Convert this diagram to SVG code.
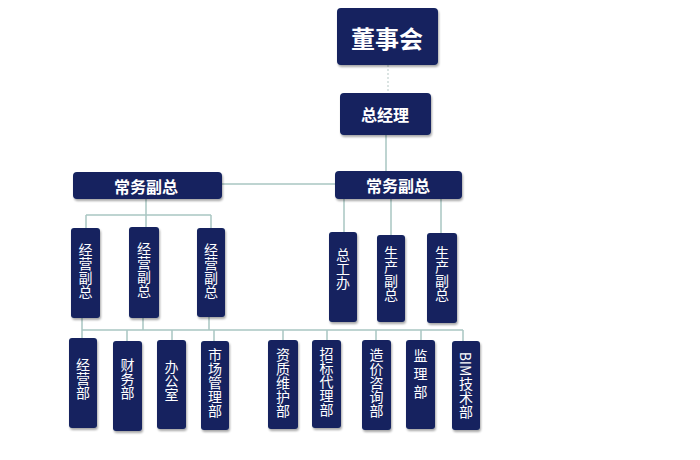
<svg xmlns="http://www.w3.org/2000/svg" width="700" height="460" viewBox="0 0 700 460">
<defs>
<filter id="sh" x="-20%" y="-20%" width="140%" height="140%">
<feGaussianBlur in="SourceAlpha" stdDeviation="1.2"/>
<feOffset dx="1" dy="1.5" result="b"/>
<feComponentTransfer><feFuncA type="linear" slope="0.35"/></feComponentTransfer>
<feMerge><feMergeNode/><feMergeNode in="SourceGraphic"/></feMerge>
</filter>
</defs>
<style>
.box{fill:#13235f;filter:url(#sh)}
.t{fill:#ffffff;font-family:"Noto Sans CJK SC","Liberation Sans",sans-serif;text-anchor:middle}
.h{font-size:16px;font-weight:bold;dominant-baseline:central}
.v{font-size:14px;writing-mode:vertical-rl}
.c{stroke:#a9c6c2;stroke-width:1.5;fill:none}
.d{stroke:#c4d2d0;stroke-width:1.2;stroke-dasharray:2 2;fill:none}
</style>
<rect width="700" height="460" fill="#ffffff"/>
<g id="connectors">
<path class="d" d="M388 65V93"/>
<path class="c" d="M386 135V171"/>
<path class="c" d="M222 184H335"/>
<path class="c" d="M146 199V215M86 215H211M86 215V228M146 215V227M211 215V228"/>
<path class="c" d="M344 199V232M391 199V235M441 199V233"/>
<path class="c" d="M82 318V330M143 318V330M209 317V330M82 330H463"/>
<path class="c" d="M82 330V338M127 330V341M172 330V340M214 330V341M283 330V340M327 330V340M376 330V340M421 330V340M463 330V341"/>
</g>
<g id="n-dongshihui"><rect class="box" x="337" y="8" width="101" height="57" rx="4"/><text class="t h" x="387" y="37" style="font-size:24px">董事会</text></g>
<g id="n-zongjingli"><rect class="box" x="340" y="93" width="91" height="42" rx="4"/><text class="t h" x="385" y="114">总经理</text></g>
<g id="n-cwfz1"><rect class="box" x="73" y="172" width="149" height="27" rx="4"/><text class="t h" x="146" y="185.5">常务副总</text></g>
<g id="n-cwfz2"><rect class="box" x="335" y="171" width="127" height="28" rx="4"/><text class="t h" x="398" y="185">常务副总</text></g>
<g id="n-jyfz1"><rect class="box" x="71" y="228" width="29" height="90" rx="3"/><text class="t v" x="85.5" y="271">经营副总</text></g>
<g id="n-jyfz2"><rect class="box" x="129" y="227" width="30" height="91" rx="3"/><text class="t v" x="144" y="270">经营副总</text></g>
<g id="n-jyfz3"><rect class="box" x="197" y="228" width="28" height="89" rx="3"/><text class="t v" x="211" y="271">经营副总</text></g>
<g id="n-zgb"><rect class="box" x="329" y="232" width="28" height="90" rx="3"/><text class="t v" x="343" y="269">总工办</text></g>
<g id="n-scfz1"><rect class="box" x="377" y="235" width="28" height="87" rx="3"/><text class="t v" x="391" y="274">生产副总</text></g>
<g id="n-scfz2"><rect class="box" x="427" y="233" width="30" height="90" rx="3"/><text class="t v" x="442" y="274">生产副总</text></g>
<g id="n-jyb"><rect class="box" x="69" y="338" width="28" height="90" rx="3"/><text class="t v" x="83" y="379">经营部</text></g>
<g id="n-cwb"><rect class="box" x="113" y="341" width="29" height="90" rx="3"/><text class="t v" x="127.5" y="379">财务部</text></g>
<g id="n-bgs"><rect class="box" x="157" y="340" width="29" height="89" rx="3"/><text class="t v" x="171.5" y="381">办公室</text></g>
<g id="n-scglb"><rect class="box" x="201" y="341" width="28" height="89" rx="3"/><text class="t v" x="215" y="383">市场管理部</text></g>
<g id="n-zzwhb"><rect class="box" x="268" y="340" width="30" height="89" rx="3"/><text class="t v" x="283" y="383">资质维护部</text></g>
<g id="n-zbdlb"><rect class="box" x="312" y="340" width="29" height="88" rx="3"/><text class="t v" x="326.5" y="382">招标代理部</text></g>
<g id="n-zjzxb"><rect class="box" x="362" y="340" width="29" height="90" rx="3"/><text class="t v" x="376.5" y="383">造价咨询部</text></g>
<g id="n-jlb"><rect class="box" x="406" y="340" width="29" height="89" rx="3"/><text class="t v" x="420.5" y="376" style="letter-spacing:4px">监理部</text></g>
<g id="n-bim"><rect class="box" x="452" y="341" width="28" height="89" rx="3"/><text class="t v" x="466" y="385">BIM技术部</text></g>
</svg>
